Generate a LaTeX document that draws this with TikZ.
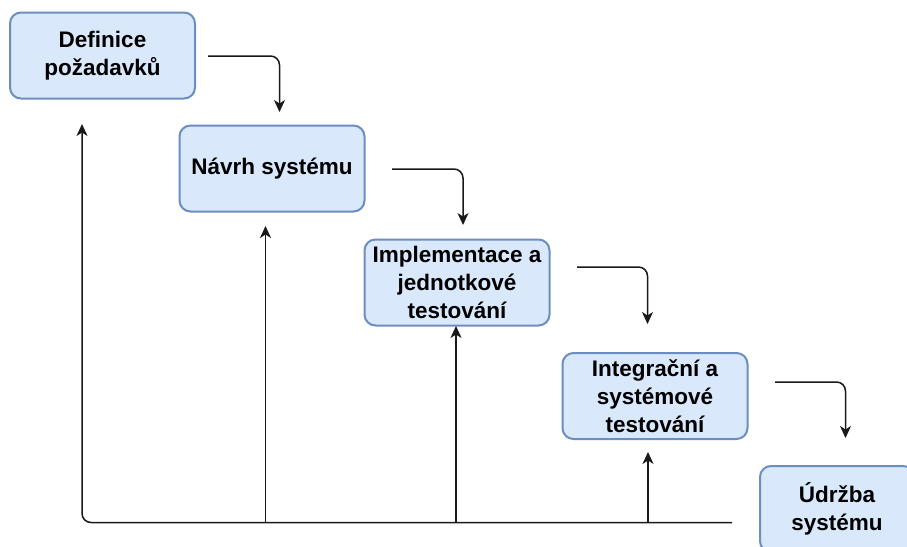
\documentclass[tikz,border=0pt]{standalone}
\usepackage{fontspec}
\setmainfont{Liberation Sans}
\usetikzlibrary{arrows.meta}
\definecolor{boxfill}{HTML}{DAE8FC}
\definecolor{boxline}{HTML}{6C8EBF}
\begin{document}
\begin{tikzpicture}[x=1pt,y=-1pt,
  phase/.style={draw=boxline, fill=boxfill, line width=2pt, rounded corners=11pt,
    minimum width=185pt, minimum height=86pt, inner sep=0pt, align=center,
    font=\fontsize{22.5}{28}\selectfont\bfseries},
  flow/.style={draw=black!90, line width=1.5pt, rounded corners=9pt,
    -{Stealth[length=12pt,width=11pt,inset=3.5pt]}}
]
\useasboundingbox (0,0) rectangle (907,546);
\clip (0,0) rectangle (907,546);

% phases of the waterfall
\node[phase] (req)    at (102.5,55.5)  {Definice\\požadavků};
\node[phase] (design) at (272,168.5)   {Návrh systému};
\node[phase] (impl)   at (457,282.5)   {Implementace a\\jednotkové\\testování};
\node[phase] (integ)  at (655,396)     {Integrační a\\systémové\\testování};
\node[phase, minimum width=154pt] (maint) at (837,509) {Údržba\\systému};

% step-down arrows between phases
\coordinate (s1) at (208,56);  \coordinate (e1) at (279.5,112);
\coordinate (s2) at (392,169); \coordinate (e2) at (463,225);
\coordinate (s3) at (577,267); \coordinate (e3) at (647.5,324);
\coordinate (s4) at (775,382); \coordinate (e4) at (845.5,438);
\draw[flow] (s1) -| (e1);
\draw[flow] (s2) -| (e2);
\draw[flow] (s3) -| (e3);
\draw[flow] (s4) -| (e4);

% feedback line along the bottom
\coordinate (fbstart) at (732,522.5);
\coordinate (fbcorner) at (82,522.5);
\coordinate (fbtop) at (82,124);
\draw[flow] (fbstart) -- (fbcorner) -- (fbtop);

% feedback arrows rising to the phases
\coordinate (b2) at (265.5,522.5); \coordinate (t2) at (265.5,226);
\coordinate (b3) at (456,522.5);   \coordinate (t3) at (456,326);
\coordinate (b4) at (648,522.5);   \coordinate (t4) at (648,452);
\draw[flow] (b2) -- (t2);
\draw[flow] (b3) -- (t3);
\draw[flow] (b4) -- (t4);
\end{tikzpicture}
\end{document}
